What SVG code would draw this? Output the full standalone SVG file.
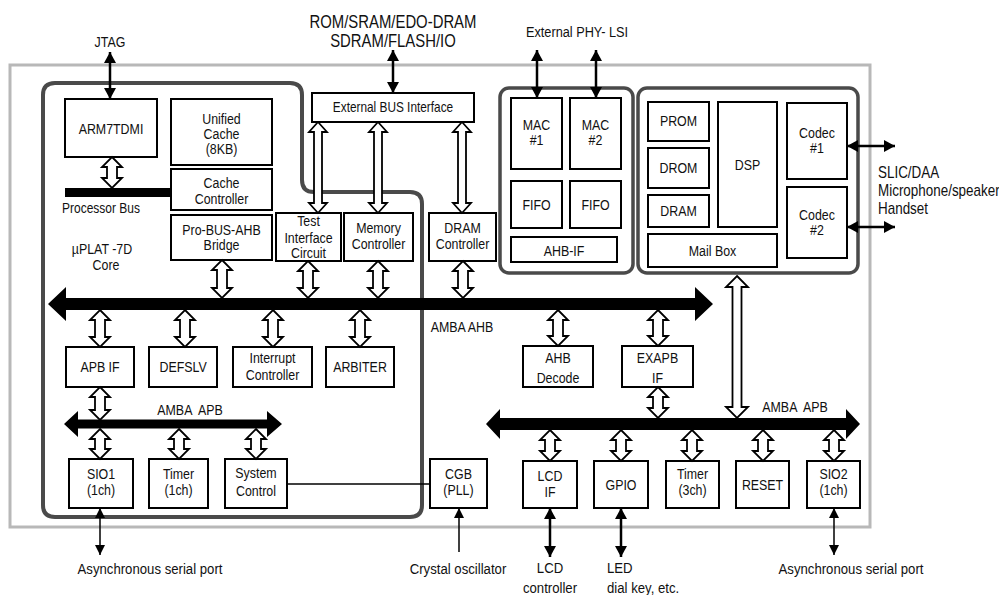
<svg xmlns="http://www.w3.org/2000/svg" width="999" height="595" viewBox="0 0 999 595">
<style>
.frame{fill:none;stroke:#b8b8b8;stroke-width:3}
.core{fill:none;stroke:#4a4a4a;stroke-width:4}
.grp{fill:none;stroke:#4a4a4a;stroke-width:3.5}
.box{fill:#fff;stroke:#000;stroke-width:2}
.hol{fill:#fff;stroke:#000;stroke-width:1.8}
.bus{fill:#000}
.ln{stroke:#000;stroke-width:2.5;fill:none}
.th{stroke:#000;stroke-width:1.5;fill:none}
text{font-family:"Liberation Sans Narrow","Arial Narrow","Liberation Sans",sans-serif;font-size:15.5px;fill:#111;transform-box:fill-box;transform-origin:center;transform:scaleX(0.8)}
.c{text-anchor:middle}
.l{transform-origin:left center}
.big{font-size:17.5px;transform:scaleX(0.85)}
.ext{font-size:15.5px;transform:scaleX(0.85)}
.phy{font-size:15px;transform:scaleX(0.85)}
.slic{font-size:16px;transform:scaleX(0.84)}
</style>
<defs>
<marker id="ah" markerUnits="userSpaceOnUse" markerWidth="12" markerHeight="12" refX="11" refY="6" orient="auto-start-reverse"><path d="M0,0 L11,6 L0,12 Z" fill="#000"/></marker>
<marker id="as" markerUnits="userSpaceOnUse" markerWidth="10" markerHeight="10" refX="10" refY="5" orient="auto-start-reverse"><path d="M0,0 L10,5 L0,10 Z" fill="#000"/></marker>
</defs>
<rect class="frame" x="10" y="65" width="860" height="462"/>
<path class="core" d="M43,95 Q43,83 55,83 L290,83 Q302,83 302,95 L302,180 Q302,192 314,192 L410,192 Q422,192 422,204 L422,505 Q422,517 410,517 L55,517 Q43,517 43,505 Z"/>
<rect class="grp" x="500" y="88" width="133" height="185" rx="9"/>
<rect class="grp" x="638" y="88" width="220" height="185" rx="9"/>

<g id="arm7tdmi"><rect class="box" x="65" y="99" width="92" height="58"/><text class="c" x="111" y="134">ARM7TDMI</text></g>
<g id="unified-cache"><rect class="box" x="171" y="99" width="101" height="66"/><text class="c" x="221.5" y="124">Unified</text><text class="c" x="221.5" y="139">Cache</text><text class="c" x="221.5" y="154">(8KB)</text></g>
<g id="cache-controller"><rect class="box" x="171" y="169" width="101" height="41"/><text class="c" x="221.5" y="188">Cache</text><text class="c" x="221.5" y="204">Controller</text></g>
<g id="processor-bus"><rect class="bus" x="65" y="188" width="106" height="9"/><text class="l" x="62" y="213" style="font-size:15px">Processor Bus</text></g>
<g id="core-label"><text class="c" x="102" y="254">µPLAT -7D</text><text class="c" x="106" y="270">Core</text></g>
<g id="probus-bridge"><rect class="box" x="171" y="215" width="101" height="45"/><text class="c" x="221.5" y="235">Pro-BUS-AHB</text><text class="c" x="221.5" y="250">Bridge</text></g>
<g id="test-interface"><rect class="box" x="276" y="213" width="65" height="48"/><text class="c" x="308.5" y="226">Test</text><text class="c" x="308.5" y="243">Interface</text><text class="c" x="308.5" y="258">Circuit</text></g>
<g id="memory-controller"><rect class="box" x="344" y="213" width="69" height="48"/><text class="c" x="378.5" y="233">Memory</text><text class="c" x="378.5" y="249">Controller</text></g>
<g id="dram-controller"><rect class="box" x="429" y="213" width="67" height="48"/><text class="c" x="462.5" y="233">DRAM</text><text class="c" x="462.5" y="249">Controller</text></g>
<g id="ext-bus-if"><rect class="box" x="312" y="93" width="162" height="29"/><text class="c" x="393" y="112" style="font-size:14.8px">External BUS Interface</text></g>

<g id="apb-if"><rect class="box" x="66" y="347" width="68" height="40"/><text class="c" x="100" y="372">APB IF</text></g>
<g id="defslv"><rect class="box" x="149" y="347" width="68" height="40"/><text class="c" x="183" y="372">DEFSLV</text></g>
<g id="interrupt-controller"><rect class="box" x="233" y="347" width="79" height="40"/><text class="c" x="272.5" y="363">Interrupt</text><text class="c" x="272.5" y="380">Controller</text></g>
<g id="arbiter"><rect class="box" x="326" y="347" width="68" height="40"/><text class="c" x="360" y="372">ARBITER</text></g>
<g id="ahb-decode"><rect class="box" x="523" y="346" width="70" height="41"/><text class="c" x="558" y="363">AHB</text><text class="c" x="558" y="383">Decode</text></g>
<g id="exapb-if"><rect class="box" x="622" y="346" width="71" height="41"/><text class="c" x="657.5" y="363">EXAPB</text><text class="c" x="657.5" y="383">IF</text></g>

<g id="sio1"><rect class="box" x="69" y="459" width="64" height="49"/><text class="c" x="101" y="479">SIO1</text><text class="c" x="101" y="495">(1ch)</text></g>
<g id="timer1"><rect class="box" x="149" y="459" width="59" height="49"/><text class="c" x="178.5" y="479">Timer</text><text class="c" x="178.5" y="495">(1ch)</text></g>
<g id="system-control"><rect class="box" x="225" y="459" width="62" height="49"/><text class="c" x="256" y="478">System</text><text class="c" x="256" y="496">Control</text></g>
<g id="cgb"><rect class="box" x="430" y="459" width="57" height="49"/><text class="c" x="458.5" y="479">CGB</text><text class="c" x="458.5" y="495">(PLL)</text></g>

<g id="lcd-if"><rect class="box" x="523" y="461" width="54" height="47"/><text class="c" x="550" y="481">LCD</text><text class="c" x="550" y="497">IF</text></g>
<g id="gpio"><rect class="box" x="594" y="461" width="54" height="47"/><text class="c" x="621" y="490">GPIO</text></g>
<g id="timer3"><rect class="box" x="666" y="461" width="53" height="47"/><text class="c" x="692.5" y="479">Timer</text><text class="c" x="692.5" y="495">(3ch)</text></g>
<g id="reset"><rect class="box" x="736" y="461" width="53" height="47"/><text class="c" x="762.5" y="490">RESET</text></g>
<g id="sio2"><rect class="box" x="807" y="461" width="53" height="47"/><text class="c" x="833.5" y="479">SIO2</text><text class="c" x="833.5" y="495">(1ch)</text></g>

<g id="mac1"><rect class="box" x="511" y="98" width="51" height="71"/><text class="c" x="536.5" y="130">MAC</text><text class="c" x="536.5" y="145">#1</text></g>
<g id="mac2"><rect class="box" x="570" y="98" width="51" height="71"/><text class="c" x="595.5" y="130">MAC</text><text class="c" x="595.5" y="145">#2</text></g>
<g id="fifo1"><rect class="box" x="511" y="181" width="51" height="47"/><text class="c" x="536.5" y="210">FIFO</text></g>
<g id="fifo2"><rect class="box" x="570" y="181" width="51" height="47"/><text class="c" x="595.5" y="210">FIFO</text></g>
<g id="ahb-if"><rect class="box" x="511" y="237" width="106" height="25"/><text class="c" x="564" y="256">AHB-IF</text></g>

<g id="prom"><rect class="box" x="648" y="102" width="61" height="39"/><text class="c" x="678.5" y="126">PROM</text></g>
<g id="drom"><rect class="box" x="648" y="148" width="61" height="40"/><text class="c" x="678.5" y="173">DROM</text></g>
<g id="dram"><rect class="box" x="648" y="195" width="61" height="32"/><text class="c" x="678.5" y="216">DRAM</text></g>
<g id="dsp"><rect class="box" x="718" y="102" width="59" height="125"/><text class="c" x="747.5" y="170">DSP</text></g>
<g id="mailbox"><rect class="box" x="648" y="234" width="129" height="33"/><text class="c" x="712.5" y="256">Mail Box</text></g>
<g id="codec1"><rect class="box" x="787" y="103" width="60" height="76"/><text class="c" x="817" y="138">Codec</text><text class="c" x="817" y="153">#1</text></g>
<g id="codec2"><rect class="box" x="787" y="187" width="60" height="71"/><text class="c" x="817" y="220">Codec</text><text class="c" x="817" y="235">#2</text></g>

<g id="connectors">
<path class="hol" d="M112,157 L122,167 L117,167 L117,178 L122,178 L112,188 L102,178 L107,178 L107,167 L102,167 Z"/>
<path class="hol" d="M318,122 L327,132 L322,132 L322,203 L327,203 L318,213 L309,203 L314,203 L314,132 L309,132 Z"/>
<path class="hol" d="M378,122 L387,132 L382,132 L382,203 L387,203 L378,213 L369,203 L374,203 L374,132 L369,132 Z"/>
<path class="hol" d="M462,122 L471,132 L466,132 L466,203 L471,203 L462,213 L453,203 L458,203 L458,132 L453,132 Z"/>
<path class="hol" d="M222,260 L232,270 L227,270 L227,288 L232,288 L222,298 L212,288 L217,288 L217,270 L212,270 Z"/>
<path class="hol" d="M308,261 L318,271 L313,271 L313,288 L318,288 L308,298 L298,288 L303,288 L303,271 L298,271 Z"/>
<path class="hol" d="M378,261 L388,271 L383,271 L383,288 L388,288 L378,298 L368,288 L373,288 L373,271 L368,271 Z"/>
<path class="hol" d="M463,261 L473,271 L468,271 L468,288 L473,288 L463,298 L453,288 L458,288 L458,271 L453,271 Z"/>
<path class="hol" d="M100,310 L110,320 L105,320 L105,337 L110,337 L100,347 L90,337 L95,337 L95,320 L90,320 Z"/>
<path class="hol" d="M185,310 L195,320 L190,320 L190,337 L195,337 L185,347 L175,337 L180,337 L180,320 L175,320 Z"/>
<path class="hol" d="M273,310 L283,320 L278,320 L278,337 L283,337 L273,347 L263,337 L268,337 L268,320 L263,320 Z"/>
<path class="hol" d="M360,310 L370,320 L365,320 L365,337 L370,337 L360,347 L350,337 L355,337 L355,320 L350,320 Z"/>
<path class="hol" d="M558,310 L568,320 L563,320 L563,336 L568,336 L558,346 L548,336 L553,336 L553,320 L548,320 Z"/>
<path class="hol" d="M658,310 L668,320 L663,320 L663,336 L668,336 L658,346 L648,336 L653,336 L653,320 L648,320 Z"/>
<path class="hol" d="M100,387 L110,397 L105,397 L105,410 L110,410 L100,420 L90,410 L95,410 L95,397 L90,397 Z"/>
<path class="hol" d="M100,429 L110,439 L105,439 L105,449 L110,449 L100,459 L90,449 L95,449 L95,439 L90,439 Z"/>
<path class="hol" d="M179,429 L189,439 L184,439 L184,449 L189,449 L179,459 L169,449 L174,449 L174,439 L169,439 Z"/>
<path class="hol" d="M256,429 L266,439 L261,439 L261,449 L266,449 L256,459 L246,449 L251,449 L251,439 L246,439 Z"/>
<path class="hol" d="M658,387 L668,397 L663,397 L663,408 L668,408 L658,418 L648,408 L653,408 L653,397 L648,397 Z"/>
<path class="hol" d="M550,430 L560,440 L555,440 L555,451 L560,451 L550,461 L540,451 L545,451 L545,440 L540,440 Z"/>
<path class="hol" d="M621,430 L631,440 L626,440 L626,451 L631,451 L621,461 L611,451 L616,451 L616,440 L611,440 Z"/>
<path class="hol" d="M692,430 L702,440 L697,440 L697,451 L702,451 L692,461 L682,451 L687,451 L687,440 L682,440 Z"/>
<path class="hol" d="M763,430 L773,440 L768,440 L768,451 L773,451 L763,461 L753,451 L758,451 L758,440 L753,440 Z"/>
<path class="hol" d="M834,430 L844,440 L839,440 L839,451 L844,451 L834,461 L824,451 L829,451 L829,440 L824,440 Z"/>
<path class="hol" d="M737,276 L748,287 L741.5,287 L741.5,407 L748,407 L737,418 L726,407 L732.5,407 L732.5,287 L726,287 Z"/>
<polygon class="bus" points="48,304 66,287 66,298 695,298 695,287 713,304 695,321 695,310 66,310 66,321"/>
<polygon class="bus" points="64,424 78,411 78,419.5 267,419.5 267,411 282,424 267,437 267,428.5 78,428.5 78,437"/>
<polygon class="bus" points="486,424 500,409 500,418 846,418 846,409 860,424 846,439 846,430 500,430 500,439"/>
<line class="ln" x1="110" y1="52" x2="110" y2="99" marker-start="url(#ah)" marker-end="url(#ah)"/>
<line class="ln" x1="393" y1="50" x2="393" y2="93" marker-start="url(#ah)" marker-end="url(#ah)"/>
<line class="ln" x1="537" y1="50" x2="537" y2="98" marker-start="url(#ah)" marker-end="url(#ah)"/>
<line class="ln" x1="596" y1="50" x2="596" y2="98" marker-start="url(#ah)" marker-end="url(#ah)"/>
<line class="ln" x1="847" y1="146" x2="895" y2="146" marker-start="url(#ah)" marker-end="url(#ah)"/>
<line class="ln" x1="847" y1="227" x2="895" y2="227" marker-start="url(#ah)" marker-end="url(#ah)"/>
<line class="ln" x1="550" y1="508" x2="550" y2="557" marker-start="url(#ah)" marker-end="url(#ah)"/>
<line class="ln" x1="621" y1="508" x2="621" y2="557" marker-start="url(#ah)" marker-end="url(#ah)"/>
<line class="th" x1="100" y1="508" x2="100" y2="555" marker-start="url(#as)" marker-end="url(#as)"/>
<line class="th" x1="834" y1="508" x2="834" y2="555" marker-start="url(#as)" marker-end="url(#as)"/>
<line class="th" x1="459" y1="552" x2="459" y2="508" marker-end="url(#as)"/>
<line class="th" x1="287" y1="484" x2="430" y2="484"/>
</g>

<g id="labels">
<text class="c" x="110" y="47">JTAG</text>
<text class="c big" x="393" y="28">ROM/SRAM/EDO-DRAM</text>
<text class="c big" x="393" y="47">SDRAM/FLASH/IO</text>
<text class="c phy" x="577" y="37">External PHY- LSI</text>
<text class="l slic" x="878" y="178">SLIC/DAA</text>
<text class="l slic" x="878" y="196">Microphone/speaker</text>
<text class="l slic" x="878" y="214">Handset</text>
<text class="c" x="462" y="332">AMBA AHB</text>
<text class="c" x="190" y="415" style="white-space:pre">AMBA  APB</text>
<text class="c" x="795" y="412" style="white-space:pre">AMBA  APB</text>
<text class="c ext" x="150" y="574">Asynchronous serial port</text>
<text class="c ext" x="458" y="574">Crystal oscillator</text>
<text class="c ext" x="550" y="573">LCD</text>
<text class="c ext" x="550" y="593">controller</text>
<text class="l ext" x="607" y="573">LED</text>
<text class="l ext" x="607" y="593">dial key, etc.</text>
<text class="c ext" x="851" y="574">Asynchronous serial port</text>
</g>
</svg>
